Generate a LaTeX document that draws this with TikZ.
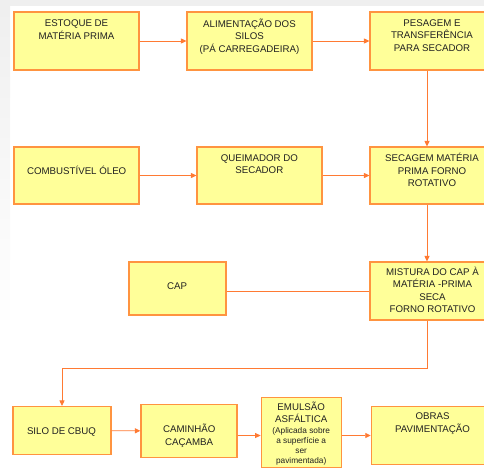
\documentclass[tikz,border=0pt]{standalone}
\usepackage{fontspec}
\setmainfont{Liberation Sans}
\usetikzlibrary{arrows.meta}
\definecolor{caixa}{HTML}{FFFF99}
\definecolor{borda}{HTML}{FF9440}
\definecolor{linha}{HTML}{FF7A33}
\definecolor{texto}{HTML}{222222}
\definecolor{fundo}{HTML}{EFEFEF}

\begin{document}
\begin{tikzpicture}[x=1pt, y=-1pt,
		etapa/.style={draw=borda, fill=caixa, line width=1.1pt, inner sep=0pt},
		rotulo/.style={anchor=base, align=center, text=texto, inner sep=0pt, font=\fontsize{9.7}{12.5}\selectfont},
		nota/.style={anchor=base, align=center, text=texto, inner sep=0pt, font=\fontsize{8.3}{10}\selectfont},
		seta/.style={draw=linha, line width=0.9pt, -{Triangle[length=5.5pt, width=5pt]}},
		liga/.style={draw=linha, line width=0.9pt}]
			\useasboundingbox (0,0) rectangle (484,469);
			% Grey margin at the top and on the left
			\fill[fundo] (0,0) rectangle (484,6);
			\shade[top color=fundo, bottom color=white] (0,6) rectangle (10,330);

			% First row (labels sit on the baseline of their last line)
			\node[etapa, minimum width=125, minimum height=58] (estoque) at (76.5,41) {};
			\node[etapa, minimum width=125, minimum height=58] (alimentacao) at (249.5,41) {};
			\node[etapa, minimum width=124, minimum height=58] (pesagem) at (432,41) {};
			\node[rotulo] (estoque-t) at (76.5,39.3) {ESTOQUE DE\\MATÉRIA PRIMA};
			\node[rotulo] (alimentacao-t) at (249.5,52) {ALIMENTAÇÃO DOS\\SILOS\\(PÁ CARREGADEIRA)};
			\node[rotulo] (pesagem-t) at (432,51) {PESAGEM E\\TRANSFERÊNCIA\\PARA SECADOR};

			% Second row
			\node[etapa, minimum width=125, minimum height=57] (combustivel) at (76.5,175.5) {};
			\node[etapa, minimum width=125, minimum height=57] (queimador) at (259.5,175.5) {};
			\node[etapa, minimum width=124, minimum height=57] (secagem) at (432,175.5) {};
			\node[rotulo] (combustivel-t) at (76.7,174.4) {COMBUSTÍVEL ÓLEO};
			\node[rotulo] (queimador-t) at (259.3,173.6) {QUEIMADOR DO\\SECADOR};
			\node[rotulo] (secagem-t) at (432,186.8) {SECAGEM MATÉRIA\\PRIMA FORNO\\ROTATIVO};

			% Third row
			\node[etapa, minimum width=97, minimum height=53] (cap) at (177.5,288.5) {};
			\node[etapa, minimum width=124, minimum height=58] (mistura) at (432,291) {};
			\node[rotulo] (cap-t) at (177,289.1) {CAP};
			\node[rotulo] (mistura-t) at (432.5,312.7) {MISTURA DO CAP À\\MATÉRIA -PRIMA\\SECA\\FORNO ROTATIVO};

			% Last row
			\node[etapa, minimum width=98, minimum height=48] (silo) at (62,430.5) {};
			\node[etapa, minimum width=96, minimum height=53] (caminhao) at (189,431) {};
			\node[etapa, minimum width=80, minimum height=70] (emulsao) at (301.2,432.2) {};
			\node[etapa, minimum width=122, minimum height=58] (obras) at (432.3,435.5) {};
			\node[rotulo] (silo-t) at (61.5,434.1) {SILO DE CBUQ};
			\node[rotulo] (caminhao-t) at (189.2,445.1) {CAMINHÃO\\CAÇAMBA};
			\node[rotulo] (emulsao-t) at (301.2,422.7) {EMULSÃO\\ASFÁLTICA};
			\node[nota] (emulsao-n) at (301.2,463) {(Aplicada sobre\\a superfície a\\ser\\pavimentada)};
			\node[rotulo] (obras-t) at (432.5,432.1) {OBRAS\\PAVIMENTAÇÃO};

			% Draw the flow
			\draw[seta] (estoque) -- (alimentacao);
			\draw[seta] (alimentacao) -- (pesagem);
			\draw[seta] ([xshift=-5pt]pesagem.south) -- ([xshift=-5pt]secagem.north);
			\draw[seta] (combustivel) -- (queimador);
			\draw[seta] (queimador) -- (secagem);
			\draw[seta] ([xshift=-5pt]secagem.south) -- ([xshift=-5pt]mistura.north);
			\draw[liga] (mistura.west) -- (mistura.west -| cap.east);
			\draw[seta] ([xshift=-5pt]mistura.south) |- ([yshift=38pt]silo.north) -- (silo.north);
			\draw[seta] (silo) -- (caminhao);
			\draw[seta] (caminhao.east |- obras.west) -- (obras.west -| emulsao.west);
			\draw[seta] (emulsao.east |- obras.west) -- (obras.west);
		\end{tikzpicture}
\end{document}
